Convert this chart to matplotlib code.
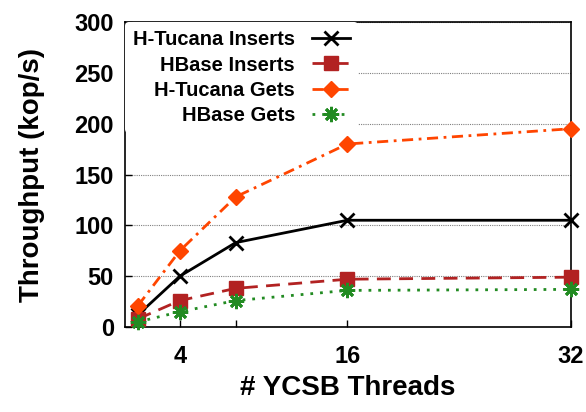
import matplotlib
matplotlib.use("Agg")
import matplotlib.pyplot as plt

threads = [1, 4, 8, 16, 32]
htucana_inserts = [12, 50, 83, 105, 105]
hbase_inserts = [8, 26, 38, 47, 49]
htucana_gets = [21, 75, 128, 180, 195]
hbase_gets = [5, 15, 26, 36, 37]

xticks = [4, 8, 16, 32]
xticklabels = ["4", "", "16", "32"]
yticks = [0, 50, 100, 150, 200, 250, 300]

plt.rcParams['font.family'] = ['Liberation Sans', 'DejaVu Sans']
plt.rcParams['font.weight'] = 'bold'

fig = plt.figure(figsize=(5.86, 4.12), dpi=100)
ax = fig.add_axes([0.2133, 0.2063, 0.7607, 0.7403])

ax.plot(threads, htucana_inserts, color='black', linestyle='-', linewidth=2,
        marker='x', markersize=10, markeredgewidth=2, label='H-Tucana Inserts',
        zorder=5, clip_on=False)
ax.plot(threads, hbase_inserts, color='#b22222', linestyle=(0, (5, 3)), linewidth=2,
        marker='s', markersize=9.5, label='HBase Inserts', zorder=5, clip_on=False)
ax.plot(threads, htucana_gets, color='#ff4500', linestyle=(0, (4, 2, 1, 2)), linewidth=2,
        marker='D', markersize=8.5, label='H-Tucana Gets', zorder=5, clip_on=False)
ax.plot(threads, hbase_gets, color='#228b22', linestyle=(0, (1, 2.5)), linewidth=2,
        marker=(8, 2, 0), markersize=11, markeredgewidth=2, label='HBase Gets',
        zorder=5, clip_on=False)

ax.set_xlim(0.07, 32)
ax.set_ylim(0, 300)
ax.set_xticks(xticks)
ax.set_xticklabels(xticklabels)
ax.set_yticks(yticks)
ax.tick_params(direction='in', labelsize=17, length=5, width=1)
ax.tick_params(axis='x', pad=13)
ax.tick_params(axis='y', pad=8)
for lab in ax.get_xticklabels() + ax.get_yticklabels():
    lab.set_fontweight('bold')
ax.yaxis.grid(True, linestyle=(0, (1, 1)), color='gray', linewidth=0.8)
ax.set_axisbelow(True)
for s in ax.spines.values():
    s.set_linewidth(1.2)

ax.set_xlabel('# YCSB Threads', fontsize=20, fontweight='bold', labelpad=5)
ax.set_ylabel('Throughput (kop/s)', fontsize=20, fontweight='bold', labelpad=21)

leg = ax.legend(loc='upper left', bbox_to_anchor=(0.0, 1.0), markerfirst=False,
                frameon=True, handlelength=1.9, handletextpad=0.85,
                labelspacing=0.32, borderpad=0.4, borderaxespad=0.0,
                prop={'weight': 'bold', 'size': 14.5})
leg.get_frame().set_edgecolor('none')
leg.get_frame().set_facecolor('white')
leg.get_frame().set_alpha(1.0)
leg.set_zorder(10)

fig.savefig('out.png', dpi=100)
